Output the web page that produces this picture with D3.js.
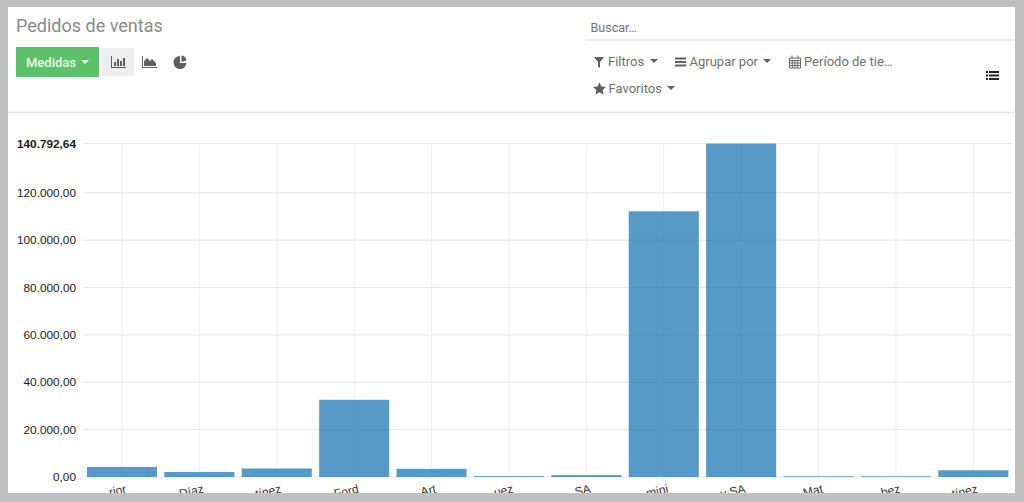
<!DOCTYPE html>
<html><head><meta charset="utf-8">
<script src="https://cdnjs.cloudflare.com/ajax/libs/d3/7.8.5/d3.min.js"></script>
<style>
html,body{margin:0;padding:0;background:#c0c0c0;overflow:hidden}
svg{display:block}
.ui{font-family:Roboto,sans-serif;font-size:13px;fill:#6f6f6f}
.yl{font-family:"Liberation Sans",Arial,sans-serif;font-size:11.800px;fill:#1b1b1b;text-anchor:end}
.xl{font-family:"Liberation Sans",Arial,sans-serif;font-size:12px;fill:#333;text-anchor:end}
</style></head><body>
<svg id="c" width="1024" height="502"></svg>
<script>
const categories=["rior","Díaz","tínez","Ford","Art","uez","SA","mini","y SA","Mat","bez","tínez"];
const values=[4250,2100,3600,32600,3450,350,800,112200,140792.64,300,300,2850];
const yTicks=[0,20000,40000,60000,80000,100000,120000,140792.64];
const yTickLabels=["0,00","20.000,00","40.000,00","60.000,00","80.000,00","100.000,00","120.000,00","140.792,64"];

const svg=d3.select("#c");
svg.append("rect").attr("x",8).attr("y",7).attr("width",1007).attr("height",486).attr("fill","#fff");
svg.append("clipPath").attr("id","frame").append("rect").attr("x",8).attr("y",7).attr("width",1007).attr("height",486);
const root=svg.append("g").attr("clip-path","url(#frame)");

// header
root.append("text").attr("class","ui").attr("x",16).attr("y",32).style("font-size","18px").style("fill","#8a8a8a").text("Pedidos de ventas");
root.append("rect").attr("x",16).attr("y",47).attr("width",83).attr("height",30).attr("fill","#5cc16a");
root.append("text").attr("class","ui").attr("x",26).attr("y",67).style("fill","#e9fbe9").style("font-weight",500).text("Medidas");
const caret=(x,y,f)=>root.append("path").attr("d",`M${x} ${y}h8l-4 4z`).attr("fill",f);
caret(81,60,"#f2fff2");
root.append("rect").attr("x",102).attr("y",48).attr("width",32).attr("height",28).attr("fill","#eeeeee");
const iconC="#5f5f5f";
// bar icon
root.append("path").attr("d","M111 56v12h15v-1h-14v-11zM114 62h2v4h-2zM117 59h2v7h-2zM120 61h2v5h-2zM123 58h2v8h-2z").attr("fill",iconC);
// area icon
root.append("path").attr("d","M142 56v12h15v-1h-14v-11zM144 66v-5l3-3 3 3 2-2 4 4v3z").attr("fill",iconC);
// pie icon
root.append("path").attr("d","M180 56a6.500 6.500 0 1 0 6.500 7h-6.500zM181.500 55.500a6 6 0 0 1 5 5l-5 1.500z").attr("fill",iconC);

// search
root.append("text").attr("class","ui").attr("x",590.500).attr("y",32).style("font-size","12.500px").style("fill","#777").text("Buscar…");
root.append("line").attr("x1",585).attr("x2",1015).attr("y1",40).attr("y2",40).attr("stroke","#e6e6e6").attr("stroke-width",1.500);
root.append("line").attr("x1",8).attr("x2",1015).attr("y1",112.500).attr("y2",112.500).attr("stroke","#e4e4e4").attr("stroke-width",1.500);

// filter icon
root.append("path").attr("d","M594 57h10l-4 5v6l-2-1.500v-4.500z").attr("fill",iconC);
root.append("text").attr("class","ui").attr("x",608).attr("y",66).text("Filtros");
caret(650,59,iconC);
root.append("path").attr("d","M675 57.500h11v2h-11zM675 61h11v2h-11zM675 64.500h11v2h-11z").attr("fill",iconC);
root.append("text").attr("class","ui").attr("x",689.500).attr("y",66).text("Agrupar por");
caret(763,59,iconC);
// calendar icon
root.append("path").attr("d","M789.500 58h11v10h-11zM789.500 60.500h11M792 55.500v3.500M798 55.500v3.500M792.300 60.500v7.500M795 60.500v7.500M797.700 60.500v7.500M789.500 63h11M789.500 65.500h11").attr("fill","none").attr("stroke",iconC).attr("stroke-width",.9);
root.append("text").attr("class","ui").attr("x",804).attr("y",66).text("Período de tie…");
// star
root.append("path").attr("d","M599.500 82.500l1.900 3.900 4.600.6-3.300 3.100.8 4.400-4-2.200-4 2.200.8-4.400-3.300-3.100 4.600-.6z").attr("fill",iconC);
root.append("text").attr("class","ui").attr("x",608.500).attr("y",93).text("Favoritos");
caret(667,86,iconC);
// list icon
root.append("path").attr("d","M986 71h2v2h-2zM989 71h10v2h-10zM986 74.500h2v2h-2zM989 74.500h10v2h-10zM986 78h2v2h-2zM989 78h10v2h-10z").attr("fill","#222");

// chart
const y=d3.scaleLinear().domain([0,140792.64]).range([477,143.6]);
const x=d3.scaleBand().domain(d3.range(categories.length)).range([83.300,1012]).paddingInner(0.095).paddingOuter(0.047);
const cx=i=>x(i)+x.bandwidth()/2;
const grid=root.append("g");
grid.selectAll("line.h").data(yTicks).join("line").attr("class","h")
 .attr("x1",83).attr("x2",1012).attr("y1",d=>y(d)).attr("y2",d=>y(d)).attr("stroke","#e5e5e5");
grid.selectAll("line.v").data(categories).join("line").attr("class","v")
 .attr("x1",(d,i)=>cx(i)).attr("x2",(d,i)=>cx(i)).attr("y1",144).attr("y2",477).attr("stroke","#e5e5e5").attr("stroke-opacity",.6);
root.append("g").selectAll("rect").data(values).join("rect")
 .attr("x",(d,i)=>x(i)).attr("width",x.bandwidth()).attr("y",d=>y(d)).attr("height",d=>y(0)-y(d))
 .attr("fill","#1f77b4").attr("fill-opacity",.75);
root.append("g").selectAll("text").data(yTicks).join("text").attr("class","yl")
 .attr("x",76).attr("y",d=>y(d)+4).style("font-weight",(d,i)=>i==yTicks.length-1?"bold":null).text((d,i)=>yTickLabels[i]);
root.append("g").selectAll("text").data(categories).join("text").attr("class","xl")
 .attr("transform",(d,i)=>`translate(${cx(i)+5},492.500) rotate(-13)`).text(d=>d);
</script></body></html>
